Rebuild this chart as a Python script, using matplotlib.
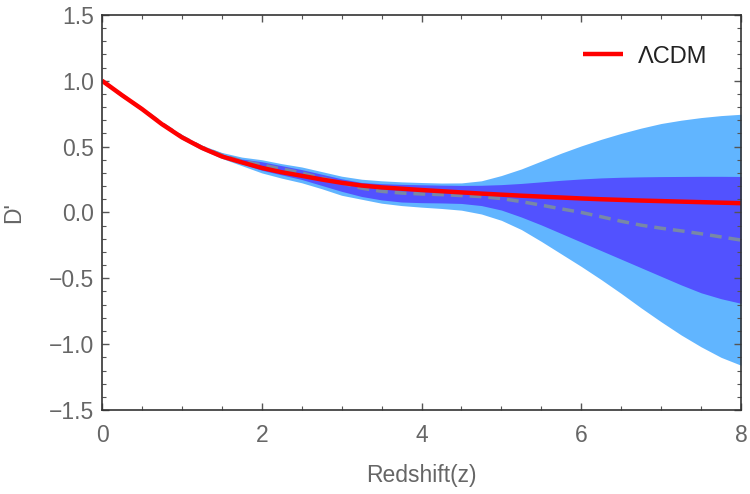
import numpy as np
import matplotlib.pyplot as plt
from matplotlib.ticker import MultipleLocator

plt.rcParams['font.family'] = ['Liberation Sans', 'DejaVu Sans']

z = [0, 0.25, 0.5, 0.75, 1.0, 1.25, 1.5, 1.75, 2.0, 2.25, 2.5, 2.75, 3.0, 3.25,
     3.5, 3.75, 4.0, 4.25, 4.5, 4.75, 5.0, 5.25, 5.5, 5.75, 6.0, 6.25, 6.5, 6.75,
     7.0, 7.25, 7.5, 7.75, 8.0]

# LCDM prediction
lcdm = [1.0, 0.89, 0.785, 0.67, 0.57, 0.49, 0.425, 0.38, 0.338, 0.305, 0.278,
        0.25, 0.225, 0.204, 0.19, 0.18, 0.17, 0.161, 0.152, 0.143, 0.135, 0.127,
        0.12, 0.113, 0.106, 0.10, 0.095, 0.09, 0.086, 0.082, 0.078, 0.074, 0.07]

# reconstructed mean
mean = [1.0, 0.89, 0.785, 0.675, 0.575, 0.495, 0.435, 0.39, 0.36, 0.33, 0.30,
        0.26, 0.225, 0.184, 0.16, 0.147, 0.14, 0.135, 0.128, 0.12, 0.105, 0.082,
        0.055, 0.027, 0.0, -0.033, -0.067, -0.097, -0.12, -0.14, -0.162, -0.186, -0.21]

# inner band
s1_hi = [1.0, 0.892, 0.79, 0.678, 0.58, 0.50, 0.44, 0.405, 0.385, 0.355, 0.325,
         0.29, 0.255, 0.227, 0.218, 0.213, 0.21, 0.207, 0.205, 0.206, 0.211, 0.22,
         0.232, 0.244, 0.254, 0.262, 0.267, 0.27, 0.272, 0.273, 0.274, 0.274, 0.273]
s1_lo = [1.0, 0.888, 0.78, 0.665, 0.565, 0.485, 0.42, 0.37, 0.32, 0.285, 0.25,
         0.205, 0.16, 0.121, 0.095, 0.079, 0.074, 0.072, 0.068, 0.052, 0.018, -0.035,
         -0.095, -0.16, -0.225, -0.29, -0.355, -0.42, -0.485, -0.55, -0.61, -0.655, -0.69]

# outer band
s2_hi = [1.0, 0.895, 0.795, 0.685, 0.59, 0.51, 0.455, 0.42, 0.40, 0.37, 0.345,
         0.31, 0.275, 0.252, 0.24, 0.232, 0.227, 0.223, 0.224, 0.24, 0.28, 0.33,
         0.39, 0.45, 0.505, 0.555, 0.60, 0.64, 0.675, 0.70, 0.72, 0.735, 0.745]
s2_lo = [1.0, 0.885, 0.775, 0.66, 0.555, 0.475, 0.41, 0.355, 0.30, 0.26, 0.225,
         0.18, 0.13, 0.10, 0.07, 0.052, 0.04, 0.03, 0.017, -0.012, -0.06, -0.13,
         -0.22, -0.315, -0.41, -0.51, -0.615, -0.725, -0.83, -0.93, -1.02, -1.10, -1.16]

fig = plt.figure(figsize=(7.5, 4.94), dpi=100)
ax = fig.add_axes([0.136, 0.170, 0.852, 0.800])

ax.fill_between(z, s2_lo, s2_hi, color='#61b5ff', lw=0)
ax.fill_between(z, s1_lo, s1_hi, color='#5252ff', lw=0)
ax.plot(z, mean, color='#7888a6', lw=2.5, ls=(0, (3.4, 2)))
ax.plot(z, lcdm, color='#ff0000', lw=3.2, label='ΛCDM', solid_capstyle='butt')

ax.set_xlim(0, 8)
ax.set_ylim(-1.5, 1.5)
ax.xaxis.set_major_locator(MultipleLocator(2))
ax.xaxis.set_minor_locator(MultipleLocator(0.5))
ax.yaxis.set_major_locator(MultipleLocator(0.5))
ax.yaxis.set_minor_locator(MultipleLocator(0.1))
ax.tick_params(which='both', direction='in', top=True, right=True,
               colors='#555555', labelcolor='#666666', labelsize=16.5)
ax.tick_params(which='major', length=5, width=1)
ax.tick_params(which='minor', length=3, width=0.8)
ax.tick_params(axis='x', pad=10)
ax.tick_params(axis='y', pad=6)
for s in ax.spines.values():
    s.set_color('#333333')
    s.set_linewidth(1.2)

ax.set_xlabel('Redshift(z)', fontsize=16.5, color='#666666')
ax.set_ylabel("D'", fontsize=16.5, color='#666666')
ax.xaxis.set_label_coords(0.5, -0.137)
ax.yaxis.set_label_coords(-0.12, 0.5)

ax.legend(loc='center right', bbox_to_anchor=(0.947, 0.894), frameon=False,
          fontsize=17, handlelength=1.7, handletextpad=0.6, borderpad=0,
          borderaxespad=0, labelcolor='#222222')

fig.savefig('out.png', dpi=100)
